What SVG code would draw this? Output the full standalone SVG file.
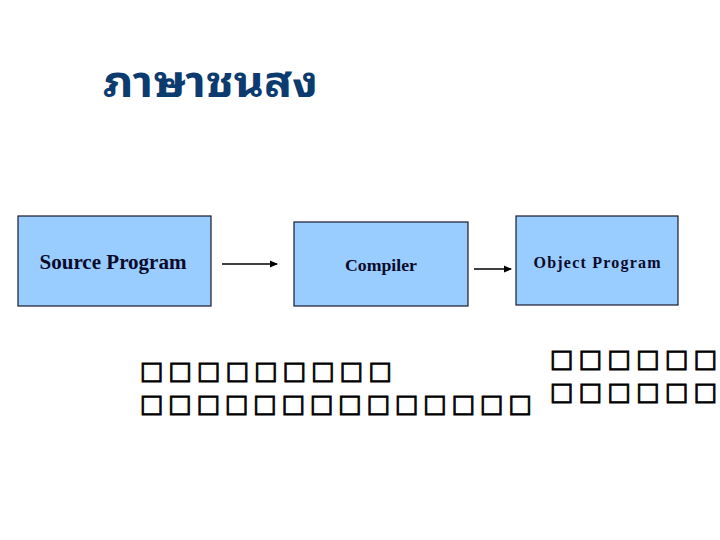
<svg xmlns="http://www.w3.org/2000/svg" width="720" height="540" viewBox="0 0 720 540">
<style>
.box{fill:#99ccff;stroke:#1a1a2e;stroke-width:1.2}
.lbl{font-family:"Liberation Serif","Times New Roman",serif;font-weight:bold;fill:#0a0a2a;text-anchor:middle}
.tofu{font-family:"DejaVu Sans",sans-serif;font-size:25px;fill:#000;stroke:#000;stroke-width:0.9}
.conn{stroke:#000;stroke-width:1.6;fill:none;marker-end:url(#ah)}
</style>
<defs>
<marker id="ah" markerWidth="8" markerHeight="8" refX="7" refY="4" orient="auto" markerUnits="userSpaceOnUse">
<path d="M0,0.5 L8,4 L0,7.5 Z" fill="#000"/>
</marker>
</defs>
<rect width="720" height="540" fill="#fff"/>
<text x="103" y="97" font-family="'Noto Sans Thai Looped','Noto Sans Thai','Noto Sans','DejaVu Sans',sans-serif" font-size="44" font-weight="bold" fill="#0b3b6f" textLength="215" lengthAdjust="spacingAndGlyphs">ภาษาชนสง</text>
<g id="source">
<rect class="box" x="18" y="216" width="193" height="90"/>
<text class="lbl" x="113" y="269" font-size="20" textLength="147" lengthAdjust="spacingAndGlyphs">Source Program</text>
</g>
<g id="compiler">
<rect class="box" x="294" y="222" width="174" height="84"/>
<text class="lbl" x="381" y="271" font-size="17" textLength="72" lengthAdjust="spacingAndGlyphs">Compiler</text>
</g>
<g id="object">
<rect class="box" x="516" y="216" width="162" height="89"/>
<text class="lbl" x="597" y="268" font-size="16" textLength="127" lengthAdjust="spacing">Object Program</text>
</g>
<g id="connectors">
<line class="conn" x1="222" y1="264" x2="277" y2="264"/>
<line class="conn" x1="474" y1="269" x2="511" y2="269"/>
</g>
<g id="notes">
<text class="tofu" x="140" y="379" textLength="252" lengthAdjust="spacing">□□□□□□□□□</text>
<text class="tofu" x="140" y="412" textLength="392" lengthAdjust="spacing">□□□□□□□□□□□□□□</text>
<text class="tofu" x="550" y="367" textLength="196" lengthAdjust="spacing">□□□□□□□</text>
<text class="tofu" x="550" y="400" textLength="196" lengthAdjust="spacing">□□□□□□□</text>
</g>
</svg>
